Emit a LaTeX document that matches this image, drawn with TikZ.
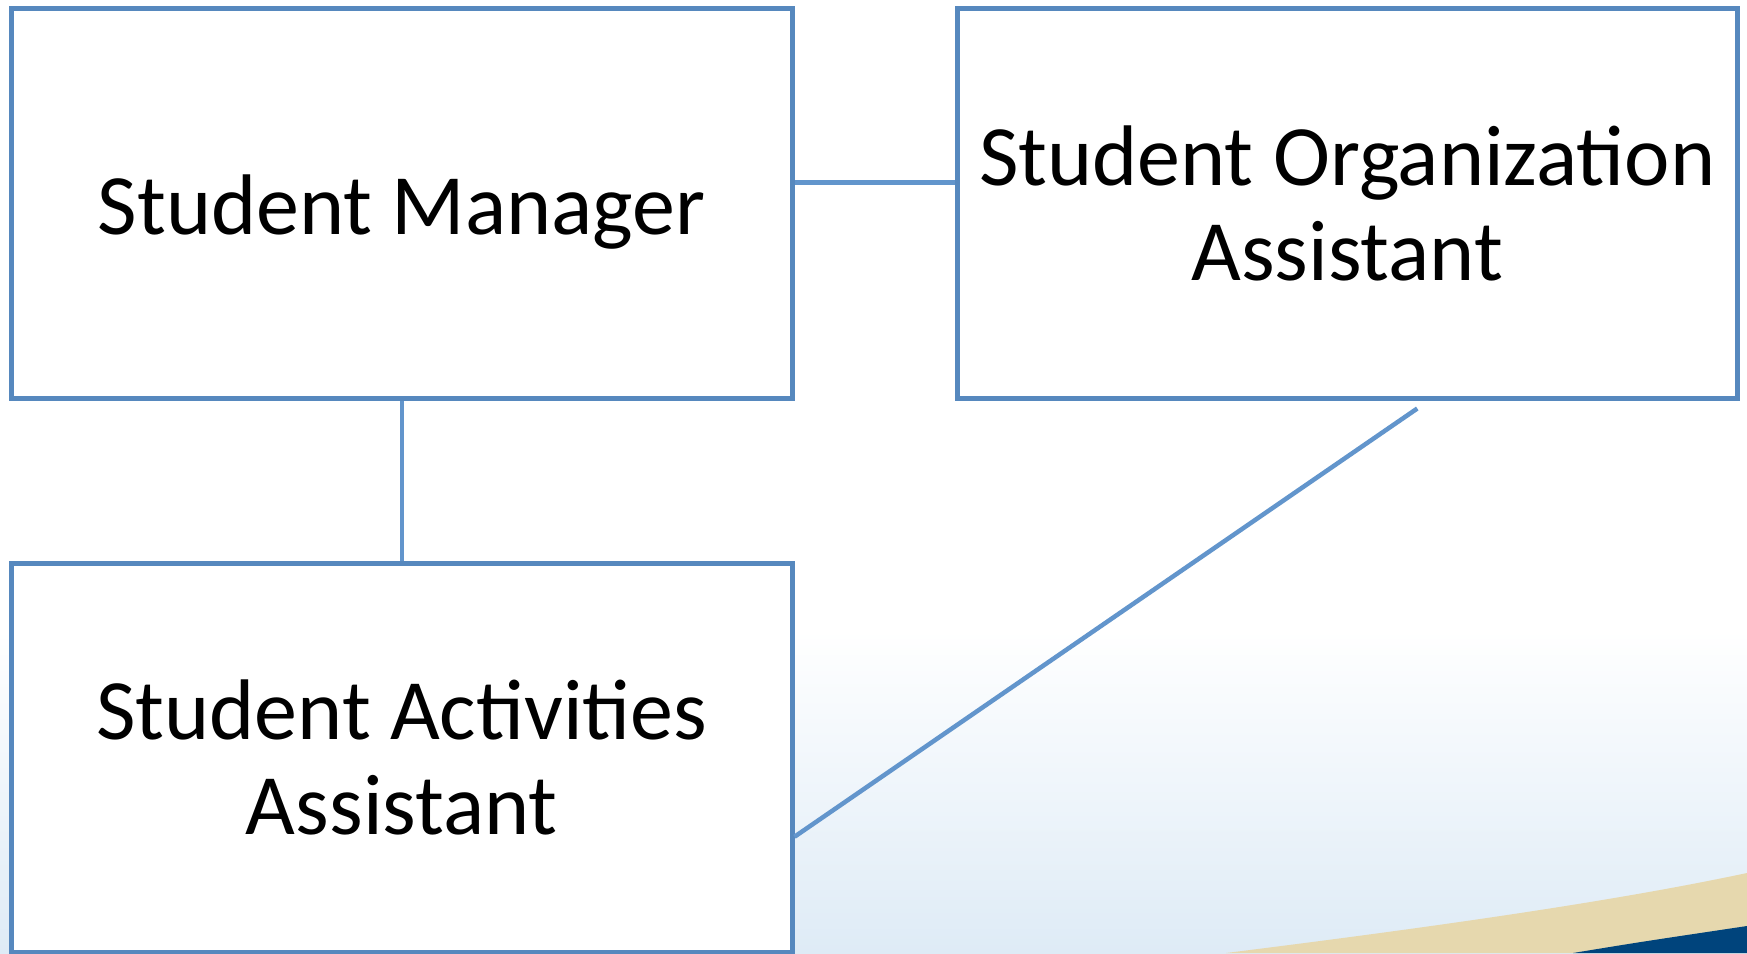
\documentclass[tikz,border=0pt]{standalone}
\usepackage{fontspec}
\setmainfont{Carlito}
\usetikzlibrary{positioning}
\definecolor{boxblue}{RGB}{86,136,190}
\definecolor{linkblue}{RGB}{98,149,204}
\definecolor{bgblue}{RGB}{222,235,246}
\definecolor{swooshsand}{RGB}{230,216,174}
\definecolor{swooshnavy}{RGB}{0,68,124}

\begin{document}
\begin{tikzpicture}[
	x=1pt, y=1pt,
	node distance=160pt,
	rolebox/.style={rectangle, draw=boxblue, fill=white, line width=5pt, minimum width=780.5pt, minimum height=389.5pt, align=center, font=\fontsize{86}{95}\selectfont},
	link/.style={draw=linkblue, line width=4.5pt},
]
\useasboundingbox (0,0) rectangle (1747,-953);
\fill[white] (0,0) rectangle (1747,-953);
\shade[top color=white, bottom color=bgblue] (0,-630) rectangle (1747,-953);
\fill[swooshsand] (1226,-953) .. controls (1450,-925) and (1620,-900) .. (1747,-873) -- (1747,-953) -- cycle;
\fill[swooshnavy] (1573,-953) .. controls (1640,-942) .. (1747,-926) -- (1747,-953) -- cycle;

\node[rolebox, text height=78pt] (manager) at (401.75,-203.25) {Student Manager};
\node[rolebox] (orgassist) [right=of manager] {Student Organization\\Assistant};
\node[rolebox] (actassist) [below=of manager] {Student Activities\\Assistant};
\coordinate (orgtail) at ([xshift=70pt, yshift=-8pt]orgassist.south);

\draw[link]([yshift=21pt]manager.east)--([yshift=21pt]orgassist.west);
\draw[link](manager.south)--(actassist.north);
\draw[link](orgtail)--([yshift=-79pt]actassist.east);
\end{tikzpicture}
\end{document}
